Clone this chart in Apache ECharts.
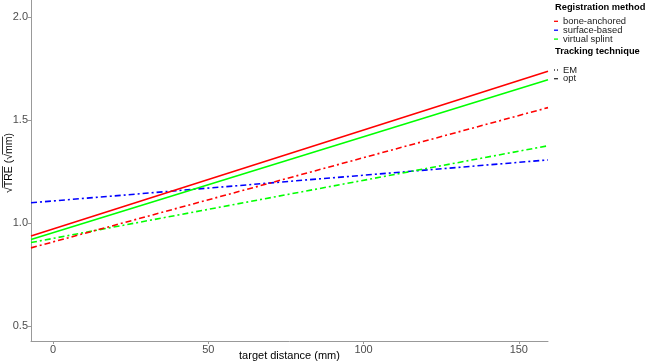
<!DOCTYPE html>
<html><head><meta charset="utf-8">
<script src="https://cdn.jsdelivr.net/npm/echarts@6/dist/echarts.min.js"></script>
<style>html,body{margin:0;padding:0;background:#fff}#c{width:645px;height:363px}</style>
</head><body><div id="c"></div>
<script>
// x range covered by fitted lines (target distance, mm)
const xEnds = [-7.1, 159.4];
const xTicks = [0, 50, 100, 150];
const yTicks = [0.5, 1.0, 1.5, 2.0];
// fitted sqrt(TRE) at the two ends of each line
const boneOpt = [0.937, 1.737];
const virtOpt = [0.920, 1.695];
const boneEM = [0.879, 1.560];
const virtEM = [0.905, 1.375];
const surfEM = [1.098, 1.306];

const regNames = ['bone-anchored', 'surface-based', 'virtual splint'];
const regColors = ['#FF0000', '#0000FF', '#00FF00'];
const techNames = ['EM', 'opt'];

const pts = v => xEnds.map((x, i) => [x, v[i]]);
const dashDot = [6, 3, 2, 3];
function line(name, v, color, dashed) {
  return {name, type: 'line', data: pts(v), symbol: 'none', silent: true,
    lineStyle: {color, width: 1.6, type: dashed ? dashDot : 'solid'}};
}
const FONT = '"Liberation Sans", Arial, sans-serif';
const chart = echarts.init(document.getElementById('c'));
const txt = '#4d4d4d';
const keyX = 554;
const g = [];
g.push({type: 'text', x: 555, y: 7, style: {text: 'Registration method', font: 'bold 9.3px ' + FONT, fill: '#000', textVerticalAlign: 'middle'}});
regNames.forEach((n, i) => {
  const y = 21.3 + i * 8.9;
  g.push({type: 'line', shape: {x1: keyX, y1: y, x2: keyX + 4, y2: y}, style: {stroke: regColors[i], lineWidth: 1.3}});
  g.push({type: 'text', x: 563, y: y, style: {text: n, font: '9.4px ' + FONT, fill: '#1a1a1a', textVerticalAlign: 'middle'}});
});
g.push({type: 'text', x: 555, y: 51, style: {text: 'Tracking technique', font: 'bold 9.3px ' + FONT, fill: '#000', textVerticalAlign: 'middle'}});
techNames.forEach((n, i) => {
  const y = 70 + i * 8.7;
  g.push({type: 'line', shape: {x1: keyX, y1: y, x2: keyX + 4, y2: y}, style: {stroke: '#333', lineWidth: 1.3, lineDash: i === 0 ? [1, 2] : null}});
  g.push({type: 'text', x: 563, y: y, style: {text: n, font: '9.4px ' + FONT, fill: '#1a1a1a', textVerticalAlign: 'middle'}});
});

// y axis title with overlines (radical vinculum), drawn rotated
(function () {
  const font = '10.5px ' + FONT;
  const ctx = document.createElement('canvas').getContext('2d');
  ctx.font = font;
  const parts = ['\u221A', 'TRE', ' (', '\u221A', 'mm', ')'];
  const w = parts.map(p => ctx.measureText(p).width);
  const total = w.reduce((a, b) => a + b, 0);
  const children = [];
  let x = -total / 2;
  children.push({type: 'text', x: x, y: 0, style: {text: parts.join(''), font, fill: '#000', textVerticalAlign: 'middle'}});
  parts.forEach((p, i) => {
    if (p === 'TRE' || p === 'mm') {
      children.push({type: 'line', shape: {x1: x - 0.5, y1: -6.5, x2: x + w[i], y2: -6.5}, style: {stroke: '#000', lineWidth: 0.8}});
    }
    x += w[i];
  });
  g.push({type: 'group', x: 9, y: 163, rotation: Math.PI / 2, children});
})();

chart.setOption({
  animation: false,
  grid: {left: 31, right: 97, top: 0, bottom: 22, outerBoundsMode: 'none', containLabel: false},
  xAxis: {type: 'value', min: xEnds[0], max: xEnds[1],
    name: 'target distance (mm)', nameLocation: 'middle', nameGap: 15, nameMoveOverlap: false,
    nameTextStyle: {color: '#000', fontSize: 11, fontFamily: FONT, verticalAlign: 'middle'},
    axisLine: {show: true, onZero: false, lineStyle: {color: '#999', width: 1}},
    axisTick: {show: true, length: 3, lineStyle: {color: '#999'}, customValues: xTicks},
    axisLabel: {color: txt, fontSize: 11, fontFamily: FONT, margin: 3, customValues: xTicks},
    splitLine: {show: false}},
  yAxis: {type: 'value', min: 0.427, max: 2.0825,
    axisLine: {show: true, onZero: false, lineStyle: {color: '#999', width: 1}},
    axisTick: {show: true, length: 3, lineStyle: {color: '#999'}, customValues: yTicks},
    axisLabel: {color: txt, fontSize: 11, fontFamily: FONT, margin: 3, customValues: yTicks,
      formatter: v => v.toFixed(1)},
    splitLine: {show: false}},
  series: [
    line('surface-based EM', surfEM, regColors[1], true),
    line('virtual splint EM', virtEM, regColors[2], true),
    line('bone-anchored EM', boneEM, regColors[0], true),
    line('virtual splint opt', virtOpt, regColors[2], false),
    line('bone-anchored opt', boneOpt, regColors[0], false)
  ],
  graphic: g
});
</script></body></html>
